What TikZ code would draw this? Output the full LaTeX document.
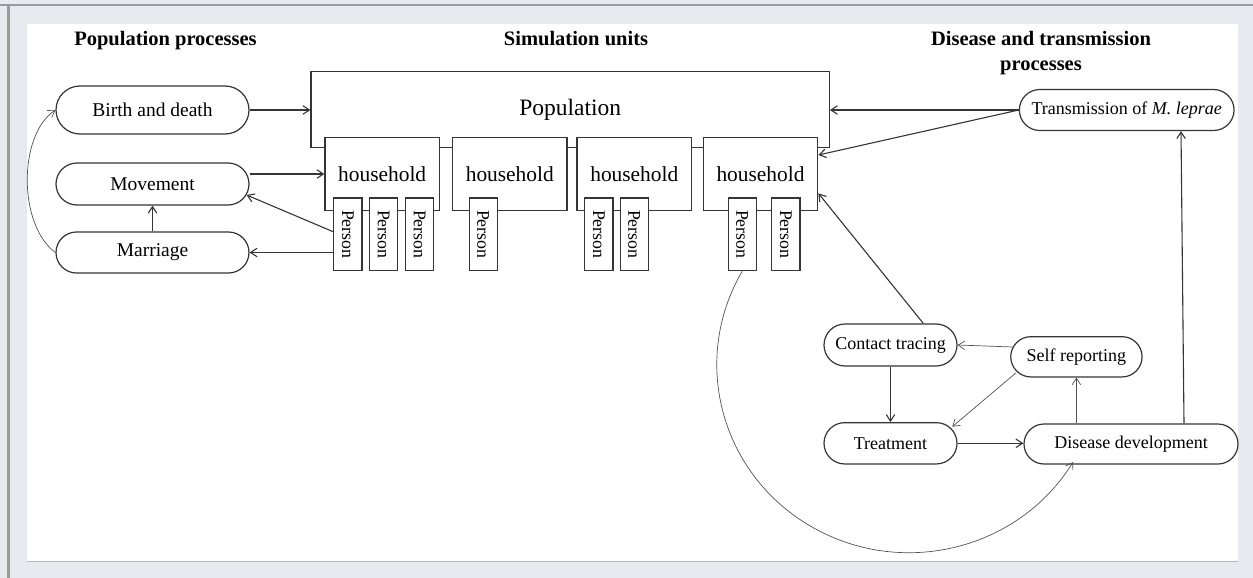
\documentclass[tikz,border=0pt]{standalone}
\usepackage{fontspec}
\setmainfont{Liberation Serif}
\usetikzlibrary{arrows.meta,shapes.misc,calc}
\definecolor{bgframe}{HTML}{E9EAEF}
\definecolor{framegray}{HTML}{9A9A9A}
\definecolor{ink}{HTML}{353535}
\tikzset{
  x=1pt,y=1pt,
  proc/.style={rounded rectangle, draw=ink, line width=1.2pt, inner sep=0pt, text=black},
  lproc/.style={proc, minimum width=193pt, font=\fontsize{19.5}{22}\selectfont},
  rproc/.style={proc, font=\fontsize{18}{21}\selectfont},
  unitbox/.style={rectangle, draw=ink, fill=white, line width=1.2pt, inner sep=0pt, text=black},
  hhbox/.style={unitbox, minimum width=114.5pt, minimum height=73.4pt, font=\fontsize{21.4}{24}\selectfont},
  personbox/.style={unitbox, minimum width=28.2pt, minimum height=72.7pt, font=\fontsize{17.8}{20}\selectfont},
  arr/.style={draw=ink, line width=1.1pt, -{Straight Barb[length=6.5pt,width=8.5pt]}},
  thinarr/.style={draw=ink!85, line width=0.7pt, -{Straight Barb[length=6.5pt,width=8.5pt]}},
  hdr/.style={font=\fontsize{20.5}{24.5}\selectfont\bfseries, align=center, inner sep=0pt, text=black},
}
\begin{document}
\begin{tikzpicture}
\useasboundingbox (0,0) rectangle (1253,-578);
% frame
\fill[bgframe] (0,0) rectangle (1253,-578);
\fill[framegray] (0,-4) rectangle (1253,-6.5);
\fill[framegray] (7,-4) rectangle (9.5,-578);
\fill[white] (27,-24) rectangle (1238,-561);
\draw[black!28, line width=1pt] (27,-561) -- (1238,-561);

% headers
\node[hdr] (h1) at (165.5,-41) {Population processes};
\node[hdr] (h2) at (576,-38.5) {Simulation units};
\node[hdr] (h3) at (1041,-53) {Disease and transmission\\processes};

% simulation units
\node[unitbox, minimum width=518.3pt, minimum height=75.6pt, font=\fontsize{23.5}{26}\selectfont] (pop) at (570.2,-109.5) {Population};
\node[hhbox] (hh1) at (382.2,-174) {household};
\node[hhbox] (hh2) at (509.8,-174) {household};
\node[hhbox] (hh3) at (634.3,-174) {household};
\node[hhbox] (hh4) at (760.5,-174) {household};
\node[personbox] (p1) at (347.8,-234.3) {\rotatebox{-90}{Person}};
\node[personbox] (p2) at (383.7,-234.3) {\rotatebox{-90}{Person}};
\node[personbox] (p3) at (419.5,-234.3) {\rotatebox{-90}{Person}};
\node[personbox] (p4) at (483.2,-234.3) {\rotatebox{-90}{Person}};
\node[personbox] (p5) at (598.8,-234.3) {\rotatebox{-90}{Person}};
\node[personbox] (p6) at (634.2,-234.3) {\rotatebox{-90}{Person}};
\node[personbox] (p7) at (742.2,-234.3) {\rotatebox{-90}{Person}};
\node[personbox] (p8) at (785.8,-234.3) {\rotatebox{-90}{Person}};

% population processes
\node[lproc, minimum height=48pt] (bd) at (152.5,-110) {Birth and death};
\node[lproc, minimum height=42pt] (mov) at (152.5,-184) {Movement};
\node[lproc, minimum height=41pt] (mar) at (152.5,-252.5) {Marriage};

% disease processes
\node[rproc, minimum width=214.7pt, minimum height=41pt] (tr) at (1126.7,-110) {Transmission of \textit{M. leprae}};
\node[rproc, minimum width=133pt, minimum height=42pt] (ct) at (890.5,-345) {Contact tracing};
\node[rproc, minimum width=131.3pt, minimum height=40.3pt] (sr) at (1076.4,-356.8) {Self reporting};
\node[rproc, minimum width=133pt, minimum height=41.3pt] (trt) at (890.5,-443.3) {Treatment};
\node[rproc, minimum width=214pt, minimum height=40pt] (dd) at (1131,-444) {Disease development};

% connectors: population processes
\draw[arr] (bd.east) -- (bd.east -| pop.west);
\draw[arr] ([yshift=10pt]mov.east) -- (hh1.west);
\draw[arr] (mar.north) -- (mov.south);
\draw[arr] (mar.east -| p1.west) -- (mar.east);
\draw[arr] ([yshift=2.6pt]p1.west) -- ([shift={(-3pt,-11pt)}]mov.east);
\draw[thinarr] (mar.west) .. controls (18,-225) and (18,-135) .. (bd.west);

% connectors: disease processes
\draw[arr] (tr.west) -- (tr.west -| pop.east);
\draw[arr] (tr.west) -- ([yshift=19pt]hh4.east);
\draw[arr] ([xshift=32.8pt]ct.north) -- ([yshift=-19.3pt]hh4.east);
\draw[arr] (ct.south) -- (trt.north);
\draw[arr] (trt.east) -- (trt.east -| dd.west);
\draw[thinarr] ([shift={(2.5pt,9.8pt)}]sr.west) -- (ct.east);
\draw[thinarr] ([shift={(6pt,-15.9pt)}]sr.west) -- ([shift={(-5.3pt,16.6pt)}]trt.east);
\draw[thinarr] (dd.north -| sr.south) -- (sr.south);
\draw[arr] ([xshift=53pt]dd.north) -- ([xshift=54.3pt]tr.south);
\draw[thinarr] (p7.south) arc[start angle=150.2, end angle=328.8, x radius=192, y radius=188];
\end{tikzpicture}
\end{document}
